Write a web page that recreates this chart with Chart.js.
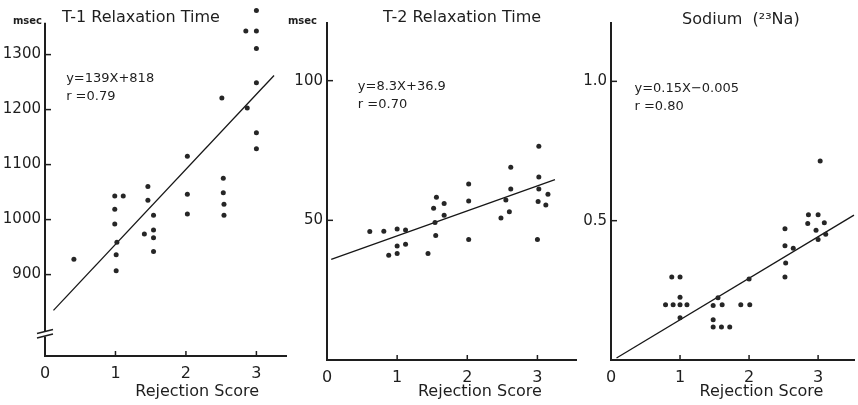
<!DOCTYPE html>
<html><head><meta charset="utf-8">
<script src="https://cdn.jsdelivr.net/npm/chart.js@4/dist/chart.umd.min.js"></script>
<style>
html,body{margin:0;padding:0;background:#fff;}
body{width:858px;height:405px;overflow:hidden;position:relative;}
canvas{position:absolute;top:0;}
</style></head>
<body>
<canvas id="c1" width="290" height="405" style="left:0px"></canvas>
<canvas id="c2" width="298" height="405" style="left:282px"></canvas>
<canvas id="c3" width="280" height="405" style="left:578px"></canvas>
<script>
// ---------- data ----------
const xTickValues = [0, 1, 2, 3];

const t1Title = "T-1 Relaxation Time";
const t1Eq = ["y=139X+818", "r =0.79"];
const t1YTicks = [900, 1000, 1100, 1200, 1300];
const t1X = [0.41, 0.99, 1.11, 0.99, 0.99, 1.02, 1.01, 1.01, 1.41, 1.46, 1.46, 1.54, 1.54, 1.54, 1.54,
             2.02, 2.02, 2.02, 2.51, 2.53, 2.53, 2.54, 2.54, 2.85, 2.87, 3.0, 3.0, 3.0, 3.0, 3.0, 3.0];
const t1Y = [928, 1043, 1043, 1019, 992, 959, 936, 907, 974, 1060, 1035, 1008, 981, 967, 942,
             1115, 1046, 1010, 1221, 1075, 1049, 1028, 1008, 1343, 1203, 1380, 1343, 1311, 1249, 1158, 1129];
const t1FitX = [0.12, 3.25];
const t1FitY = [835, 1262];

const t2Title = "T-2 Relaxation Time";
const t2Eq = ["y=8.3X+36.9", "r =0.70"];
const t2YTicks = [50, 100];
const t2X = [0.61, 0.81, 0.88, 1.0, 1.0, 1.0, 1.12, 1.12, 1.44, 1.52, 1.54, 1.55, 1.56, 1.67, 1.67,
             2.02, 2.02, 2.02, 2.48, 2.55, 2.6, 2.62, 2.62, 3.0, 3.01, 3.02, 3.02, 3.02, 3.12, 3.15];
const t2Y = [46.0, 46.1, 37.5, 46.9, 40.8, 38.1, 46.5, 41.4, 38.1, 54.3, 49.2, 44.6, 58.3, 56.0, 51.8,
             63.0, 56.9, 43.1, 50.8, 57.3, 53.1, 69.0, 61.2, 43.1, 56.7, 76.5, 65.5, 61.2, 55.5, 59.3];
const t2FitX = [0.06, 3.25];
const t2FitY = [36.0, 64.6];

const naTitle = "Sodium  (\u00B2\u00B3Na)";
const naEq = ["y=0.15X\u22120.005", "r =0.80"];
const naYTicks = [0.5, 1.0];
const naX = [0.79, 0.88, 0.9, 1.0, 1.0, 1.0, 1.0, 1.1, 1.48, 1.48, 1.48, 1.55, 1.6, 1.61, 1.72, 1.88,
             2.0, 2.01, 2.52, 2.52, 2.53, 2.52, 2.64, 2.85, 2.86, 2.97, 3.0, 3.0, 3.03, 3.09, 3.11];
const naY = [0.198, 0.298, 0.198, 0.298, 0.225, 0.198, 0.152, 0.198, 0.196, 0.144, 0.118, 0.223, 0.118, 0.198, 0.118, 0.198,
             0.291, 0.198, 0.471, 0.41, 0.348, 0.298, 0.401, 0.49, 0.521, 0.466, 0.521, 0.432, 0.714, 0.493, 0.451];
const naFitX = [0.08, 3.52];
const naFitY = [0.007, 0.52];

const xTitle = "Rejection Score";
const unitLabel = "msec";

// ---------- drawing ----------
const FONT = '"DejaVu Sans", "Liberation Sans", sans-serif';
const INK = '#1e1e1e';
const pts = (xs, ys) => xs.map((x, i) => ({x, y: ys[i]}));

const decoPlugin = {
  id: 'deco',
  afterDraw(chart, args, o) {
    const ctx = chart.ctx, ca = chart.chartArea, xs = chart.scales.x, ys = chart.scales.y;
    ctx.save();
    ctx.strokeStyle = INK; ctx.lineCap = 'butt';
    const seg = (a, b, c, d) => { ctx.beginPath(); ctx.moveTo(a, b); ctx.lineTo(c, d); ctx.stroke(); };
    // y axis line (from its visible top down to the x axis)
    ctx.lineWidth = 2;
    const yTopPx = o.axisTop !== undefined ? ys.getPixelForValue(o.axisTop) : ca.top;
    seg(ca.left, yTopPx, ca.left, ca.bottom + 1);
    // inward tick marks
    ctx.lineWidth = 1.5;
    ys.ticks.forEach(t => { const py = ys.getPixelForValue(t.value); seg(ca.left, py, ca.left + 6, py); });
    xs.ticks.forEach(t => { if (t.value === 0) return; const px = xs.getPixelForValue(t.value); seg(px, ca.bottom, px, ca.bottom - 5); });
    // axis break
    if (o.breakAt !== undefined) {
      const pb = ys.getPixelForValue(o.breakAt);
      ctx.fillStyle = '#fff';
      ctx.fillRect(ca.left - 3, pb - 2.5, 6, 5);
      ctx.lineWidth = 1.4;
      seg(ca.left - 8, pb - 0.5, ca.left + 8, pb - 4.5);
      seg(ca.left - 8, pb + 4, ca.left + 8, pb);
    }
    ctx.fillStyle = INK;
    ctx.textBaseline = 'middle';
    // panel title
    ctx.textAlign = 'left';
    ctx.font = '16px ' + FONT;
    ctx.fillText(o.title, xs.getPixelForValue(o.titleAt), o.titleY);
    // x-axis title
    ctx.textAlign = 'center';
    ctx.fillText(xTitle, xs.getPixelForValue(o.xTitleAt), 392);
    // unit label
    if (o.unit) {
      ctx.textAlign = 'right';
      ctx.font = 'bold 10px ' + FONT;
      ctx.fillText(unitLabel, o.unitRight, 21);
    }
    // equation
    ctx.textAlign = 'left';
    ctx.font = '13px ' + FONT;
    const ex = xs.getPixelForValue(o.eqAt);
    ctx.fillText(o.eq[0], ex, o.eqY);
    ctx.fillText(o.eq[1], ex, o.eqY + 18);
    ctx.restore();
  }
};

function makeChart(id, p) {
  return new Chart(document.getElementById(id), {
    type: 'scatter',
    data: {
      datasets: [
        { data: pts(p.x, p.y), pointRadius: 2.5, pointBackgroundColor: '#262626', pointBorderWidth: 0, clip: false },
        { data: pts(p.fx, p.fy), showLine: true, borderColor: '#161616', borderWidth: 1.3, pointRadius: 0, fill: false, clip: false }
      ]
    },
    options: {
      responsive: false, animation: false, events: [],
      layout: { padding: { top: p.top, right: p.right, left: 0, bottom: 0 } },
      plugins: { legend: { display: false }, tooltip: { enabled: false }, deco: p.deco },
      scales: {
        x: {
          type: 'linear', min: 0, max: p.xMax,
          afterBuildTicks: s => { s.ticks = xTickValues.map(v => ({ value: v })); },
          afterFit: s => { s.height = p.xH; },
          grid: { display: false, drawTicks: false },
          border: { display: true, color: INK, width: 2 },
          ticks: { padding: 8, color: INK, font: { family: FONT, size: 16 }, maxRotation: 0, callback: v => String(v) }
        },
        y: {
          type: 'linear', min: p.yMin, max: p.yMax,
          afterBuildTicks: s => { s.ticks = p.yTicks.map(v => ({ value: v })); },
          afterFit: s => { s.width = p.yW; s.paddingTop = 0; s.paddingBottom = 0; },
          grid: { display: false, drawTicks: false },
          border: { display: false },
          ticks: { padding: 4, color: INK, font: { family: FONT, size: 15 }, callback: p.yFmt }
        }
      }
    },
    plugins: [decoPlugin]
  });
}

makeChart('c1', {
  x: t1X, y: t1Y, fx: t1FitX, fy: t1FitY, yTicks: t1YTicks,
  xMax: 3.42, yMin: 752, yMax: 1392, top: 1, right: 3, xH: 49, yW: 45,
  yFmt: v => String(v),
  deco: { title: t1Title, titleAt: 0.24, titleY: 18, xTitleAt: 2.16, unit: true, unitRight: 42,
          eq: t1Eq, eqAt: 0.30, eqY: 79, breakAt: 792, axisTop: 1358 }
});
makeChart('c2', {
  x: t2X, y: t2Y, fx: t2FitX, fy: t2FitY, yTicks: t2YTicks,
  xMax: 3.55, yMin: 0, yMax: 121, top: 22, right: 2, xH: 45, yW: 45,
  yFmt: v => String(v),
  deco: { title: t2Title, titleAt: 0.80, titleY: 18, xTitleAt: 2.18, unit: true, unitRight: 35,
          eq: t2Eq, eqAt: 0.44, eqY: 87 }
});
makeChart('c3', {
  x: naX, y: naY, fx: naFitX, fy: naFitY, yTicks: naYTicks,
  xMax: 3.52, yMin: 0, yMax: 1.213, top: 22, right: 0, xH: 45, yW: 33,
  yFmt: v => v.toFixed(1),
  deco: { title: naTitle, titleAt: 1.03, titleY: 20, xTitleAt: 2.18, unit: false,
          eq: naEq, eqAt: 0.34, eqY: 89 }
});
</script>
</body></html>
